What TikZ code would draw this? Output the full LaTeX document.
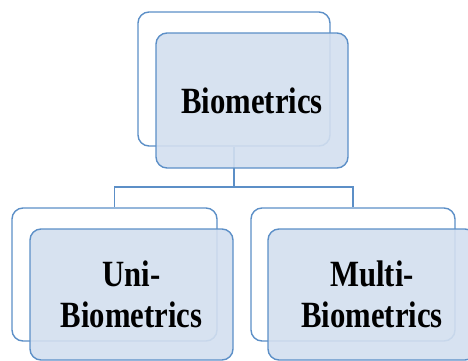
\documentclass[tikz,border=0pt]{standalone}
\usepackage{fontspec}
\newfontfamily\boxfont[FakeStretch=0.83]{Liberation Serif}
\definecolor{lineblue}{RGB}{92,143,199}
\definecolor{fillblue}{RGB}{211,223,239}

\begin{document}
\begin{tikzpicture}[x=1pt,y=1pt,
	backbox/.style={draw=lineblue,line width=1.4pt,rounded corners=11pt,fill=white,inner sep=0pt},
	frontbox/.style={draw=lineblue,line width=1.4pt,rounded corners=11pt,fill=fillblue,fill opacity=0.9,text opacity=1,inner sep=0pt,align=center,font=\boxfont\bfseries\fontsize{37}{41}\selectfont},
	link/.style={draw=lineblue,line width=1.2pt}]
	\useasboundingbox (0,0) rectangle (468,360);
	% back cards
	\node[backbox,minimum width=192pt,minimum height=134pt] (topback) at (234,281) {};
	\node[backbox,minimum width=205pt,minimum height=133pt] (uniback) at (114.5,85.5) {};
	\node[backbox,minimum width=204pt,minimum height=133pt] (multiback) at (353,85.5) {};
	% tree lines
	\coordinate (fork) at (234,173);
	\draw[link] (topback.south) -- (fork) -| (uniback.north);
	\draw[link] (fork) -| (multiback.north);
	% front cards
	\node[frontbox,minimum width=192pt,minimum height=135pt] (top) at (252,259.5) {Biometrics};
	\node[frontbox,minimum width=203pt,minimum height=131pt] (uni) at (131.5,65.5) {Uni-\\Biometrics};
	\node[frontbox,minimum width=208pt,minimum height=131pt] (multi) at (372,65.5) {Multi-\\Biometrics};
\end{tikzpicture}
\end{document}
